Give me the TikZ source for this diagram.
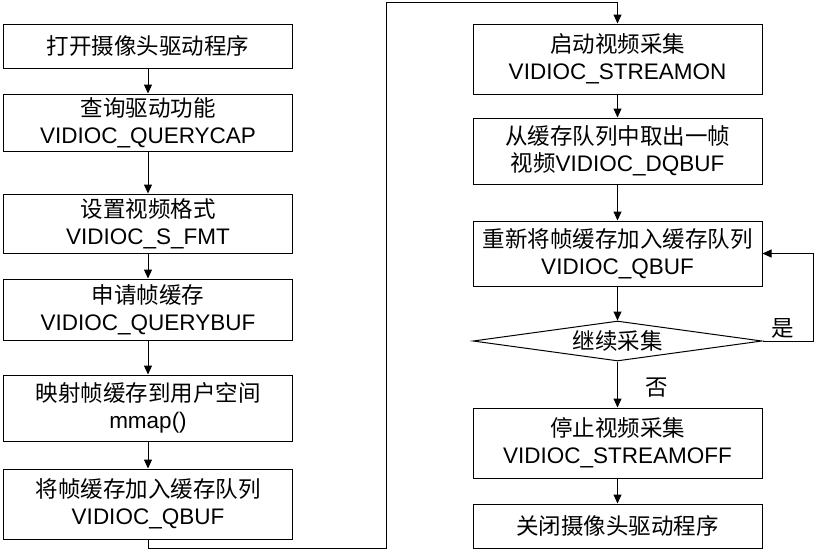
\documentclass[tikz,border=0pt]{standalone}
\usepackage{fontspec}
\setmainfont{Liberation Sans}
\newfontfamily\cjk{Noto Sans CJK SC}
\usetikzlibrary{arrows.meta,shapes.geometric}
\newcommand{\zh}[1]{{\cjk #1}}
\tikzset{
  stepbox/.style={draw,line width=1pt,minimum width=289pt,align=center,inner sep=0pt,
    font=\fontsize{22.5}{27}\selectfont},
  arr/.style={line width=1pt,-{Triangle[length=9pt,width=8pt]}},
  lbl/.style={font=\fontsize{22.5}{27}\selectfont\cjk,inner sep=0pt}
}
\begin{document}
\begin{tikzpicture}[x=1pt,y=-1pt]
      \useasboundingbox (0,0) rectangle (816,550);
      % left column
      \node[stepbox,minimum height=44pt] (open) at (148,46) {\zh{打开摄像头驱动程序}};
      \node[stepbox,minimum height=57pt] (cap) at (148,122.5) {\zh{查询驱动功能}\\VIDIOC\_QUERYCAP};
      \node[stepbox,minimum height=59pt] (fmt) at (148,223.5) {\zh{设置视频格式}\\VIDIOC\_S\_FMT};
      \node[stepbox,minimum height=61pt] (req) at (148,309.5) {\zh{申请帧缓存}\\VIDIOC\_QUERYBUF};
      \node[stepbox,minimum height=66pt] (map) at (148,408) {\zh{映射帧缓存到用户空间}\\mmap()};
      \node[stepbox,minimum height=70pt] (qbuf) at (148,504) {\zh{将帧缓存加入缓存队列}\\VIDIOC\_QBUF};
      % right column
      \node[stepbox,minimum height=70pt] (on) at (617.5,59) {\zh{启动视频采集}\\VIDIOC\_STREAMON};
      \node[stepbox,minimum height=66pt] (dq) at (617.5,151) {\zh{从缓存队列中取出一帧}\\\zh{视频}VIDIOC\_DQBUF};
      \node[stepbox,minimum height=65pt] (requeue) at (617.5,253.5) {\zh{重新将帧缓存加入缓存队列}\\VIDIOC\_QBUF};
      \node[draw,line width=1pt,diamond,aspect=7.2,inner sep=0pt,minimum width=289pt,minimum height=40pt,
        font=\fontsize{22.5}{27}\selectfont\cjk] (more) at (617.5,341) {继续采集};
      \node[stepbox,minimum height=70pt] (off) at (617.5,443) {\zh{停止视频采集}\\VIDIOC\_STREAMOFF};
      \node[stepbox,minimum height=44pt] (close) at (617.5,526) {\zh{关闭摄像头驱动程序}};
      \node[lbl] (yes) at (783,328) {是};
      \node[lbl] (no) at (657,388) {否};
      \coordinate (turnA) at (386,548);
      \coordinate (turnB) at (386,2);
      \coordinate (loopR) at (813,253.5);
      % connectors
      \draw[arr] (open) -- (cap);
      \draw[arr] (cap) -- (fmt);
      \draw[arr] (fmt) -- (req);
      \draw[arr] (req) -- (map);
      \draw[arr] (map) -- (qbuf);
      \draw[arr] (qbuf.south) |- (turnA) -- (turnB) -| (on.north);
      \draw[arr] (on) -- (dq);
      \draw[arr] (dq) -- (requeue);
      \draw[arr] (requeue) -- (more.north);
      \draw[arr] (more.east) -| (loopR) -- (requeue.east);
      \draw[arr] (more.south) -- (off);
      \draw[arr] (off) -- (close);
    \end{tikzpicture}
\end{document}
